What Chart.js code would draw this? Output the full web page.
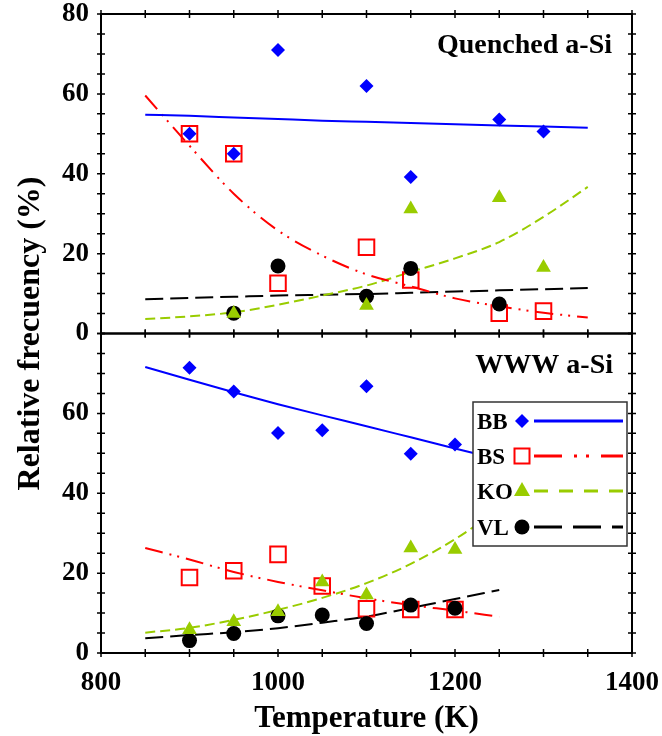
<!DOCTYPE html>
<html lang="en">

<head>
    <meta charset="UTF-8">
    <title>Relative frecuency vs Temperature</title>
    <script src="https://cdn.jsdelivr.net/npm/chart.js"></script>
    <style>
        body { margin: 0; background: #fff; }
        #wrap { width: 662px; height: 736px; }
    </style>
</head>

<body>
    <div id="wrap">
        <canvas id="freqChart" width="662" height="736"></canvas>
    </div>

    <script>
        // Quenched a-Si (top panel)
        const qTemp = [900, 950, 1000, 1100, 1150, 1250, 1300];
        const qBB = [50, 45, 71, 62, 39.2, 53.6, 50.6];
        const qBS = [50, 45, 12.6, 21.6, 13.4, 5.1, 5.6];
        const qKO = [null, 5, null, 7, 31.2, 34, 16.5];
        const qVL = [null, 5.1, 16.9, 9.3, 16.3, 7.4, null];

        // fitted curves, top panel
        const qFitTemp = [850, 900, 950, 1000, 1050, 1100, 1150, 1200, 1250, 1300, 1350];
        const qBBfit = [54.8, 54.5, 54.1, 53.7, 53.3, 53.0, 52.7, 52.4, 52.1, 51.8, 51.5];
        const qBSfit = [59.6, 47, 35, 25.8, 19.5, 14.8, 11.8, 8.8, 6.8, 5.2, 4.0];
        const qKOfit = [3.6, 4.3, 5.3, 7.2, 9.5, 12, 15.4, 18.8, 22.9, 29.2, 36.7];
        const qVLfit = [8.6, 8.9, 9.2, 9.5, 9.7, 9.9, 10.2, 10.5, 10.8, 11.1, 11.4];

        // WWW a-Si (bottom panel)
        const wTemp = [900, 950, 1000, 1050, 1100, 1150, 1200];
        const wBB = [71.4, 65.5, 55.1, 55.8, 66.8, 49.9, 52.2];
        const wBS = [18.9, 20.6, 24.7, 16.8, 11.1, 10.9, 10.9];
        const wKO = [5.8, 7.8, 10.3, 17.8, 14.5, 26.3, 25.9];
        const wVL = [3.1, 4.9, 9.3, 9.5, 7.4, 12, 11.2];

        // fitted curves, bottom panel
        const wFitTemp = [850, 900, 950, 1000, 1050, 1100, 1150, 1200, 1250];
        const wBBfit = [71.6, 68.4, 65.3, 62.3, 59.5, 56.8, 54, 51.2, 48.5];
        const wBSfit = [26.3, 23.4, 20.3, 17.8, 15.7, 13.7, 12, 10.6, 9.1];
        const wKOfit = [5.1, 6.3, 8.3, 10.8, 13.8, 17.5, 22.3, 28.5, 36];
        const wVLfit = [3.7, 4.5, 5.2, 6.2, 7.6, 9.1, 11.3, 13.5, 15.8];

        const xTickValues = [800, 1000, 1200, 1400];
        const legendNames = ['BB', 'BS', 'KO', 'VL'];

        const BLUE = '#0000ff', RED = '#ff0000', GREEN = '#99cc00', BLACK = '#000000';
        const SERIF = '"Liberation Serif", "Times New Roman", serif';

        function pts(xs, ys) {
            return xs.map((x, i) => ({ x: x, y: ys[i] })).filter(p => p.y !== null);
        }

        function markers(data, axis, style, color, radius, order) {
            const hollow = style === 'rect';
            return {
                data: data, yAxisID: axis, showLine: false, order: order,
                pointStyle: style, pointRadius: radius, pointHoverRadius: radius,
                pointBackgroundColor: hollow ? 'rgba(0,0,0,0)' : color,
                pointBorderColor: color, pointBorderWidth: hollow ? 2 : 0
            };
        }

        function fitLine(data, axis, color, dash) {
            return {
                data: data, yAxisID: axis, showLine: true, order: 10,
                borderColor: color, borderWidth: 2, borderDash: dash,
                pointRadius: 0, cubicInterpolationMode: 'monotone'
            };
        }

        const dashBS = [18, 7, 2, 6, 2, 7];
        const dashKO = [10, 5];
        const dashVL = [18, 7];

        // frame, crossing ticks, panel labels, titles and the inset legend
        const framePlugin = {
            id: 'frame',
            afterDraw(chart) {
                const ctx = chart.ctx;
                const ca = chart.chartArea;
                const xs = chart.scales.x;
                ctx.save();
                ctx.strokeStyle = '#000';
                ctx.lineWidth = 2;
                ['yQ', 'yW'].forEach(id => {
                    const s = chart.scales[id];
                    ctx.strokeRect(ca.left, s.top, ca.right - ca.left, s.bottom - s.top);
                    ctx.lineWidth = 1.5;
                    ctx.beginPath();
                    for (let t = 800; t <= 1400; t += 50) {
                        const px = xs.getPixelForValue(t);
                        [s.top, s.bottom].forEach(py => {
                            ctx.moveTo(px, py - 4);
                            ctx.lineTo(px, py + 4);
                        });
                    }
                    for (let v = 0; v <= 80; v += 5) {
                        const py = s.getPixelForValue(v);
                        [ca.left, ca.right].forEach(px => {
                            ctx.moveTo(px - 4, py);
                            ctx.lineTo(px + 4, py);
                        });
                    }
                    ctx.stroke();
                    ctx.lineWidth = 2;
                });

                ctx.fillStyle = '#000';
                ctx.font = 'bold 28px ' + SERIF;
                ctx.textAlign = 'right';
                ctx.textBaseline = 'alphabetic';
                ctx.fillText('Quenched a-Si', 612, chart.scales.yQ.top + 39);
                ctx.fillText('WWW a-Si', 613, chart.scales.yW.top + 39);

                // axis titles
                ctx.textAlign = 'center';
                ctx.font = 'bold 31px ' + SERIF;
                ctx.fillText('Temperature (K)', (ca.left + ca.right) / 2, 727);
                ctx.save();
                ctx.translate(39, (ca.top + ca.bottom) / 2);
                ctx.rotate(-Math.PI / 2);
                ctx.font = 'bold 32px ' + SERIF;
                ctx.fillText('Relative frecuency (%)', 0, 0);
                ctx.restore();

                // legend box
                const bx = 473, by = 402, bw = 154, bh = 144;
                ctx.fillStyle = '#fff';
                ctx.fillRect(bx, by, bw, bh);
                ctx.strokeStyle = '#333';
                ctx.lineWidth = 1.5;
                ctx.strokeRect(bx, by, bw, bh);

                const rows = [421, 456, 491, 527];
                const colors = [BLUE, RED, GREEN, BLACK];
                const dashes = [[], [28, 12, 3, 9, 3, 12], [14, 11], [28, 11]];
                ctx.font = 'bold 23px ' + SERIF;
                ctx.textAlign = 'left';
                rows.forEach((ry, i) => {
                    ctx.fillStyle = '#000';
                    ctx.fillText(legendNames[i], 477, ry + 8);
                    const mx = 522;
                    ctx.fillStyle = colors[i];
                    ctx.strokeStyle = colors[i];
                    ctx.setLineDash([]);
                    ctx.beginPath();
                    if (i === 0) {
                        ctx.moveTo(mx - 7, ry); ctx.lineTo(mx, ry - 7);
                        ctx.lineTo(mx + 7, ry); ctx.lineTo(mx, ry + 7);
                        ctx.closePath(); ctx.fill();
                    } else if (i === 1) {
                        ctx.lineWidth = 2;
                        ctx.strokeRect(mx - 7.5, ry - 7.5, 15, 15);
                    } else if (i === 2) {
                        ctx.moveTo(mx, ry - 9); ctx.lineTo(mx + 8, ry + 5);
                        ctx.lineTo(mx - 8, ry + 5); ctx.closePath(); ctx.fill();
                    } else {
                        ctx.arc(mx, ry, 7.5, 0, Math.PI * 2); ctx.fill();
                    }
                    ctx.beginPath();
                    ctx.lineWidth = 3;
                    ctx.setLineDash(dashes[i]);
                    ctx.moveTo(534, ry);
                    ctx.lineTo(623, ry);
                    ctx.stroke();
                });
                ctx.restore();
            }
        };

        const tickFont = { family: SERIF, size: 27, weight: 'bold' };

        function yScale(hide80) {
            return {
                type: 'linear', position: 'left', stack: 'panels', stackWeight: 1,
                min: 0, max: 80,
                grid: { display: false, drawTicks: false },
                border: { display: false },
                ticks: {
                    stepSize: 20, padding: 12, color: '#000', font: tickFont,
                    callback: v => (hide80 && v === 80) ? '' : String(v)
                },
                afterFit: s => {
                    s.width = 101;
                    s.paddingTop = 0;
                    s.paddingBottom = 0;
                }
            };
        }

        window.onload = () => {
            const ctx = document.getElementById('freqChart').getContext('2d');
            new Chart(ctx, {
                type: 'scatter',
                data: {
                    datasets: [
                        markers(pts(qTemp, qBB), 'yQ', 'rectRot', BLUE, 7, 0),
                        markers(pts(qTemp, qKO), 'yQ', 'triangle', GREEN, 8.5, 1),
                        markers(pts(qTemp, qVL), 'yQ', 'circle', BLACK, 7.5, 2),
                        markers(pts(qTemp, qBS), 'yQ', 'rect', RED, 11, 3),
                        fitLine(pts(qFitTemp, qBBfit), 'yQ', BLUE, []),
                        fitLine(pts(qFitTemp, qBSfit), 'yQ', RED, dashBS),
                        fitLine(pts(qFitTemp, qKOfit), 'yQ', GREEN, dashKO),
                        fitLine(pts(qFitTemp, qVLfit), 'yQ', BLACK, dashVL),

                        markers(pts(wTemp, wBB), 'yW', 'rectRot', BLUE, 7, 0),
                        markers(pts(wTemp, wKO), 'yW', 'triangle', GREEN, 8.5, 1),
                        markers(pts(wTemp, wVL), 'yW', 'circle', BLACK, 7.5, 2),
                        markers(pts(wTemp, wBS), 'yW', 'rect', RED, 11, 3),
                        fitLine(pts(wFitTemp, wBBfit), 'yW', BLUE, []),
                        fitLine(pts(wFitTemp, wBSfit), 'yW', RED, dashBS),
                        fitLine(pts(wFitTemp, wKOfit), 'yW', GREEN, dashKO),
                        fitLine(pts(wFitTemp, wVLfit), 'yW', BLACK, dashVL)
                    ]
                },
                options: {
                    responsive: false,
                    animation: false,
                    layout: { padding: { top: 14, right: 30, left: 0, bottom: 0 } },
                    plugins: { legend: { display: false }, tooltip: { enabled: false } },
                    scales: {
                        x: {
                            type: 'linear', position: 'bottom', min: 800, max: 1400,
                            grid: { display: false, drawTicks: false },
                            border: { display: false },
                            afterBuildTicks: s => { s.ticks = xTickValues.map(v => ({ value: v })); },
                            ticks: { padding: 14, color: '#000', font: tickFont, callback: v => String(v) },
                            afterFit: s => {
                                s.height = 83;
                                s.paddingLeft = 0;
                                s.paddingRight = 0;
                            }
                        },
                        // stacked panels: the first one listed ends up at the bottom
                        yW: yScale(true),
                        yQ: yScale(false)
                    }
                },
                plugins: [framePlugin]
            });
        };
    </script>
</body>

</html>
